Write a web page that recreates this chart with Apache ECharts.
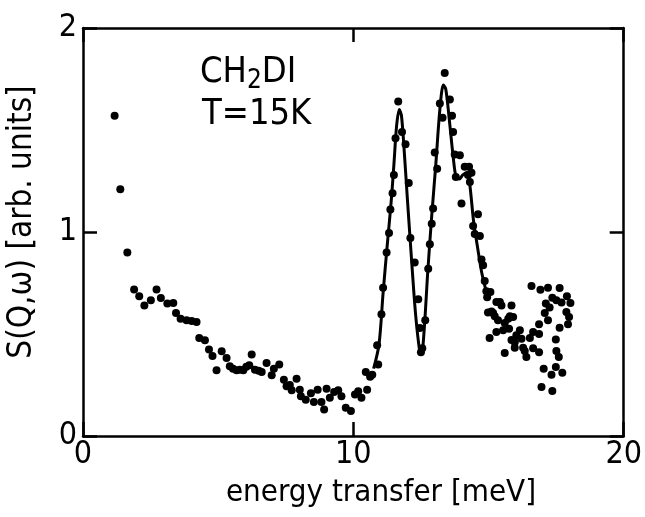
<!DOCTYPE html>
<html><head><meta charset="utf-8">
<script src="https://cdn.jsdelivr.net/npm/echarts@6/dist/echarts.min.js"></script>
<style>html,body{margin:0;padding:0;background:#fff}#c{width:645px;height:517px}</style>
</head><body><div id="c"></div>
<script>
const FONT = '"DejaVu Sans Condensed","DejaVu Sans",sans-serif';

// measured points (energy transfer [meV], S(Q,w) [arb. units])
const pointX = [1.17,1.38,1.64,1.89,2.08,2.27,2.51,2.72,2.88,3.12,3.34,3.44,3.61,3.83,4.02,4.20,4.30,4.51,4.66,4.79,4.94,5.13,5.31,5.43,5.55,5.68,5.80,5.93,6.04,6.15,6.24,6.36,6.50,6.61,6.79,6.98,7.06,7.26,7.43,7.53,7.65,7.72,7.90,8.02,8.06,8.24,8.43,8.54,8.68,8.82,8.92,9.01,9.13,9.29,9.44,9.56,9.72,9.91,10.06,10.18,10.30,10.46,10.51,10.62,10.70,
  10.88,10.92,11.04,11.10,11.23,11.32,11.37,11.45,11.50,11.56,11.66,11.80,11.93,12.05,12.11,12.27,12.40,12.46,12.50,12.55,12.66,12.77,12.83,12.90,12.95,13.01,13.10,13.20,13.30,13.38,13.57,13.65,13.69,13.75,13.79,13.94,14.00,14.12,14.24,14.28,14.31,14.37,14.43,14.49,14.61,14.68,14.74,14.80,14.86,14.92,14.95,
  14.98,15.04,15.07,15.11,15.17,15.23,15.29,15.29,15.35,15.42,15.48,15.54,15.60,15.60,15.73,15.76,15.79,15.85,15.85,15.91,15.97,15.97,16.03,16.16,16.22,16.28,16.34,16.40,16.53,16.59,16.65,16.65,16.87,16.87,16.87,16.92,16.96,17.04,17.08,17.12,17.20,17.20,17.26,17.33,17.36,17.36,17.49,17.49,17.51,17.51,17.60,17.63,17.63,17.70,17.73,17.88,17.90,17.94,17.98,18.03];
const pointY = [1.57,1.21,0.90,0.718,0.685,0.64,0.665,0.718,0.676,0.649,0.652,0.603,0.575,0.567,0.564,0.559,0.48,0.469,0.424,0.392,0.322,0.415,0.382,0.342,0.33,0.322,0.325,0.322,0.34,0.347,0.40,0.325,0.32,0.314,0.358,0.298,0.33,0.35,0.276,0.244,0.25,0.224,0.281,0.227,0.195,0.178,0.21,0.167,0.227,0.167,0.13,0.232,0.188,0.216,0.224,0.195,0.139,0.123,0.204,0.219,0.188,0.314,0.227,0.29,0.30,
  0.445,0.35,0.597,0.727,0.90,0.995,1.11,1.19,1.28,1.46,1.64,1.49,1.43,1.24,0.97,0.85,0.67,0.53,0.41,0.43,0.567,0.82,0.94,1.04,1.115,1.39,1.31,1.63,1.56,1.78,1.65,1.57,1.49,1.38,1.27,1.376,1.14,1.32,1.28,1.32,1.245,1.29,1.03,0.99,1.087,0.98,0.865,0.837,0.76,0.71,0.68,
  0.605,0.48,0.706,0.61,0.603,0.587,0.657,0.51,0.567,0.657,0.64,0.518,0.554,0.407,0.575,0.526,0.587,0.64,0.47,0.583,0.46,0.433,0.494,0.518,0.477,0.433,0.417,0.387,0.48,0.735,0.51,0.43,0.548,0.50,0.41,0.717,0.24,0.33,0.603,0.65,0.727,0.567,0.63,0.30,0.678,0.22,0.473,0.338,0.665,0.417,0.387,0.725,0.531,0.654,0.31,0.608,0.685,0.548,0.583,0.652];

// fitted curve
const curveX = [10.75,10.95,11.10,11.25,11.40,11.50,11.60,11.70,11.78,11.88,12.00,12.15,12.30,12.45,12.52,12.62,12.75,12.90,13.05,13.20,13.33,13.42,13.55,13.70,13.80,13.92,14.05,14.20,14.30,14.45,14.60,14.75,14.95];
const curveY = [0.33,0.45,0.70,0.93,1.15,1.33,1.52,1.60,1.57,1.40,1.16,0.87,0.60,0.42,0.40,0.52,0.80,1.08,1.33,1.60,1.72,1.70,1.55,1.36,1.27,1.26,1.28,1.29,1.24,1.05,0.92,0.80,0.69];

const xTitle = 'energy transfer [meV]';
const yTitle = 'S(Q,ω) [arb. units]';

const chart = echarts.init(document.getElementById('c'), null, {renderer: 'canvas'});
const axisLine = {show: true, onZero: false, lineStyle: {color: '#000', width: 2.5}};
const tick = {show: true, inside: true, length: 14, lineStyle: {color: '#000', width: 2.5}};
chart.setOption({
  animation: false,
  backgroundColor: '#fff',
  grid: {left: 83, right: 21, top: 28, bottom: 81},
  xAxis: [
    {type: 'value', min: 0, max: 20, interval: 10, position: 'bottom', axisLine, axisTick: tick, splitLine: {show: false},
     axisLabel: {color: '#000', fontFamily: FONT, fontSize: 32, margin: 3}},
    {type: 'value', min: 0, max: 20, interval: 10, position: 'top', axisLine, axisTick: tick, splitLine: {show: false}, axisLabel: {show: false}}
  ],
  yAxis: [
    {type: 'value', min: 0, max: 2, interval: 1, position: 'left', axisLine, axisTick: tick, splitLine: {show: false},
     axisLabel: {color: '#000', fontFamily: FONT, fontSize: 32, margin: 6}},
    {type: 'value', min: 0, max: 2, interval: 1, position: 'right', axisLine, axisTick: tick, splitLine: {show: false}, axisLabel: {show: false}}
  ],
  series: [
    {type: 'line', data: curveX.map((x, i) => [x, curveY[i]]), smooth: 0.3, showSymbol: false,
     lineStyle: {color: '#000', width: 3}, z: 2},
    {type: 'scatter', data: pointX.map((x, i) => [x, pointY[i]]), symbolSize: 8,
     itemStyle: {color: '#000', opacity: 1}, z: 3}
  ],
  graphic: [
    {type: 'text', x: 381, y: 493, style: {text: xTitle, font: '31px ' + FONT, fill: '#000', textAlign: 'center', textVerticalAlign: 'middle'}},
    {type: 'text', x: 22, y: 222, rotation: Math.PI / 2, style: {text: yTitle, font: '33px ' + FONT, fill: '#000', textAlign: 'center', textVerticalAlign: 'middle'}},
    {type: 'text', left: 200, top: 52, style: {text: 'CH{s|2}DI', fontFamily: FONT, fontSize: 36, fill: '#000', lineHeight: 40,
      rich: {s: {fontFamily: FONT, fontSize: 26, lineHeight: 40, padding: [16, 0, 0, 0], fill: '#000'}}}},
    {type: 'text', left: 202, top: 97, style: {text: 'T=15K', fontFamily: FONT, fontSize: 36, fill: '#000'}}
  ]
});
</script></body></html>
